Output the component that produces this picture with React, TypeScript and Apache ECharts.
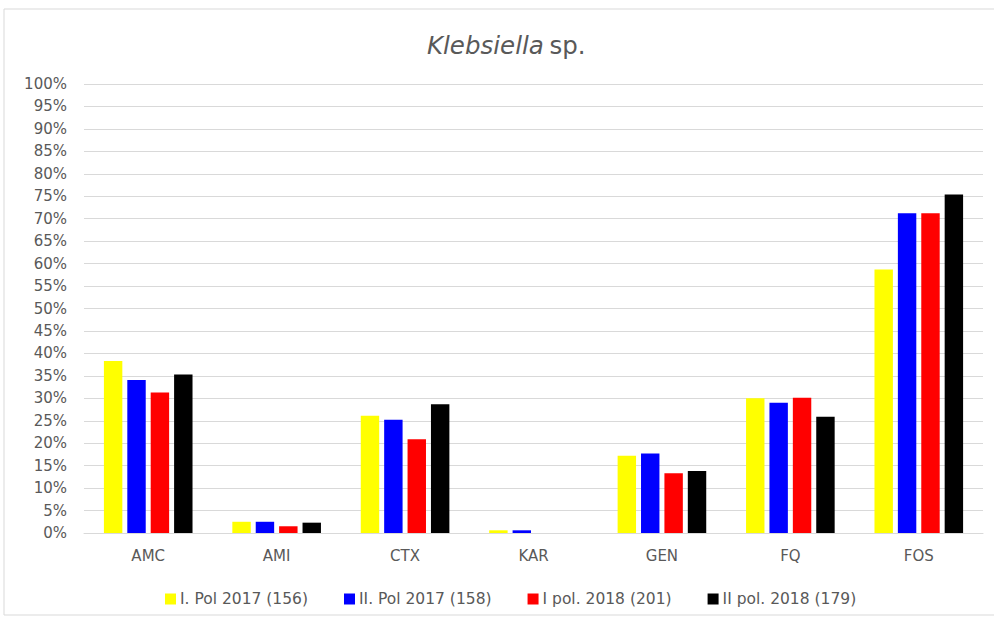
import React, { useEffect, useRef } from "react";
import * as echarts from "echarts";

const categories = ["AMC", "AMI", "CTX", "KAR", "GEN", "FQ", "FOS"];
const seriesNames = ["I. Pol 2017 (156)", "II. Pol 2017 (158)", "I pol. 2018 (201)", "II pol. 2018 (179)"];
const pol1_2017 = [38.3, 2.5, 26.1, 0.6, 17.2, 30.0, 58.7];
const pol2_2017 = [34.1, 2.5, 25.2, 0.6, 17.7, 29.0, 71.2];
const pol1_2018 = [31.3, 1.5, 20.9, 0, 13.3, 30.1, 71.2];
const pol2_2018 = [35.3, 2.3, 28.7, 0, 13.8, 25.9, 75.4];
const colors = ["#ffff00", "#0000ff", "#ff0000", "#000000"];

const FONT = "'DejaVu Sans', 'Open Sans', sans-serif";

export default function App() {
  const ref = useRef<HTMLDivElement>(null);
  useEffect(() => {
    if (!ref.current) return;
    const chart = echarts.init(ref.current, undefined, { renderer: "svg" });
    const data = [pol1_2017, pol2_2017, pol1_2018, pol2_2018];
    chart.setOption({
      animation: false,
      backgroundColor: "#ffffff",
      textStyle: { fontFamily: FONT },
      title: {
        text: "{i|Klebsiella} {n|sp.}",
        left: 422,
        top: 28,
        textStyle: {
          fontWeight: "normal",
          rich: {
            i: { fontStyle: "italic", fontWeight: "normal", fontSize: 24.5, color: "#595959", fontFamily: FONT },
            n: { fontWeight: "normal", fontSize: 24.5, color: "#595959", fontFamily: FONT },
          },
        },
      },
      graphic: [
        {
          type: "rect",
          shape: { x: 4, y: 9, width: 1000, height: 606 },
          style: { fill: "none", stroke: "#d9d9d9", lineWidth: 1 },
          silent: true,
        },
      ],
      legend: {
        top: 586,
        left: 160,
        itemWidth: 11,
        itemHeight: 11,
        itemGap: 36,
        icon: "rect",
        textStyle: { fontSize: 15.5, color: "#595959", fontFamily: FONT, padding: [0, 0, 0, -1] },
        data: seriesNames,
      },
      grid: { left: 84, right: 11, top: 84, bottom: 86, containLabel: false },
      xAxis: {
        type: "category",
        data: categories,
        axisTick: { show: false },
        axisLine: { lineStyle: { color: "#d9d9d9", width: 1 } },
        axisLabel: { fontSize: 15, color: "#595959", margin: 15 },
      },
      yAxis: {
        type: "value",
        min: 0,
        max: 100,
        interval: 5,
        axisLine: { show: false },
        axisTick: { show: false },
        splitLine: { lineStyle: { color: "#d9d9d9", width: 1 } },
        axisLabel: { fontSize: 15, color: "#595959", margin: 17, formatter: "{value}%" },
      },
      series: seriesNames.map((name, i) => ({
        name,
        type: "bar",
        data: data[i],
        itemStyle: { color: colors[i] },
        barGap: "27%",
        barCategoryGap: "31%",
      })),
    });
    return () => chart.dispose();
  }, []);
  return (
    <div
      ref={ref}
      style={{ position: "fixed", left: 0, top: 0, width: 994, height: 619 }}
    />
  );
}
